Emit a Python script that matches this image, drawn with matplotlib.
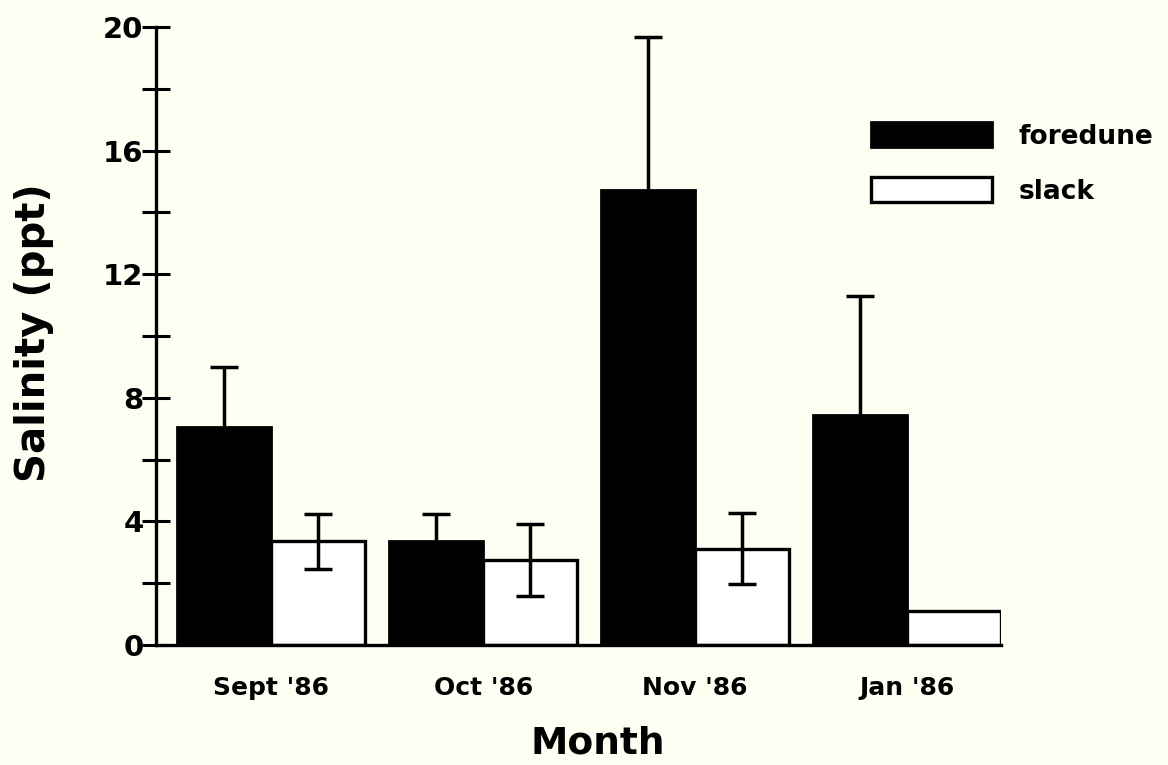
import matplotlib
matplotlib.use('Agg')
import matplotlib.pyplot as plt
import numpy as np

months = ["Sept '86", "Oct '86", "Nov '86", "Jan '86"]
foredune = [7.05, 3.37, 14.72, 7.44]
foredune_err = [1.95, 0.87, 4.96, 3.85]
slack = [3.35, 2.75, 3.12, 1.1]
slack_err = [0.89, 1.17, 1.15, 0.0]

plt.rcParams['font.family'] = ['DejaVu Sans']
bg = '#fffef3'

fig = plt.figure(figsize=(11.68, 7.65), dpi=100, facecolor=bg)
ax = fig.add_axes([0.1336, 0.1569, 0.7235, 0.8078], facecolor=bg)

x = np.arange(len(months))
w = 0.443
ekw = dict(ecolor='black', elinewidth=2.5, capsize=10, capthick=2.5)

ax.bar(x - w / 2, foredune, w, color='black', edgecolor='black', linewidth=2,
       yerr=foredune_err, error_kw=ekw, label='foredune', zorder=2)
ax.bar(x + w / 2, slack, w, color='white', edgecolor='black', linewidth=2.4,
       yerr=[e if e > 0 else np.nan for e in slack_err], error_kw=ekw,
       label='slack', zorder=2)

ax.set_xlim(-0.543, 3.443)
ax.set_ylim(0, 20)

for s in ['top', 'right']:
    ax.spines[s].set_visible(False)
ax.spines['left'].set_linewidth(2.4)
ax.spines['bottom'].set_linewidth(2.4)

ax.set_yticks([0, 4, 8, 12, 16, 20])
ax.set_yticks([2, 6, 10, 14, 18], minor=True)
ax.tick_params(axis='y', which='both', direction='inout', length=20, width=2.2,
               labelsize=21, pad=-1)
for t in ax.get_yticklabels():
    t.set_fontweight('bold')
ax.set_xticks(x)
ax.set_xticklabels(months, fontsize=18, fontweight='bold')
ax.tick_params(axis='x', length=0, pad=22)

ax.set_xlabel('Month', fontsize=27, fontweight='bold', labelpad=14)
ax.xaxis.set_label_coords(0.523, -0.13)
ax.set_ylabel('Salinity (ppt)', fontsize=29, fontweight='bold')
ax.yaxis.set_label_coords(-0.121, 0.505)

ax.legend(loc='upper left', bbox_to_anchor=(0.725, 0.871), bbox_transform=fig.transFigure,
          frameon=False, prop={'size': 19, 'weight': 'bold'}, handlelength=4.6,
          handleheight=1.05, handletextpad=1.0, labelspacing=1.05)

fig.savefig('out.png', dpi=100, facecolor=bg)
